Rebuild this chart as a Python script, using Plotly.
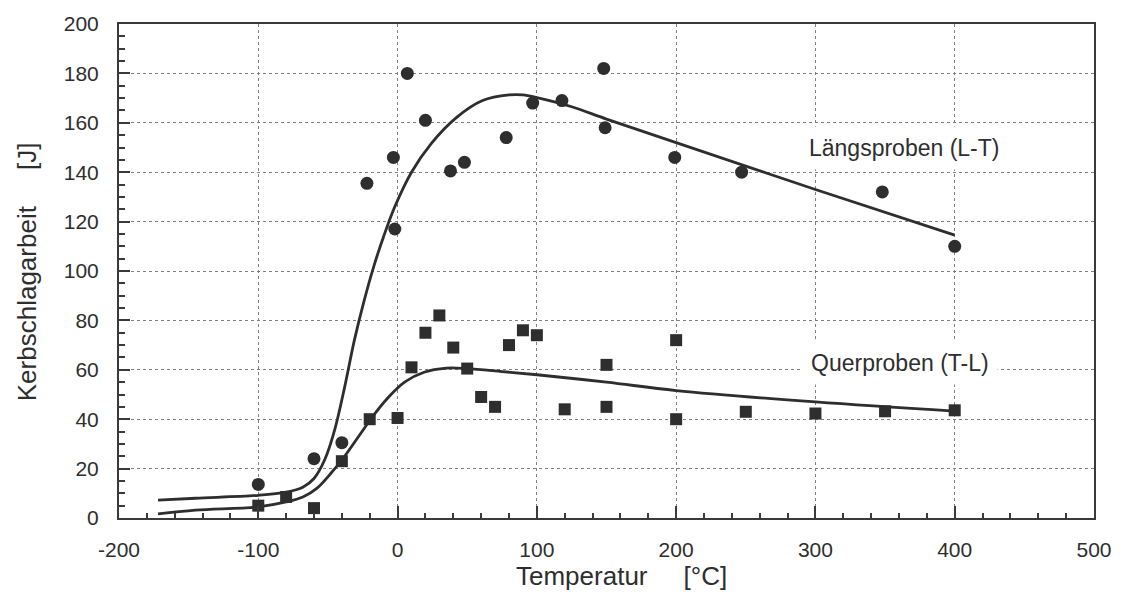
import plotly.graph_objects as go

# Längsproben (L-T) measured points
laengs_T = [-100, -60, -40, -22, -3, -2, 7, 20, 38, 48, 78, 97, 118, 148, 149, 199, 247, 348, 400]
laengs_V = [13.6, 24, 30.5, 135.5, 146, 117, 180, 161, 140.5, 144, 154, 168, 169, 182, 158, 146, 140, 132, 110]

# Querproben (T-L) measured points
quer_T = [-100, -80, -60, -40, -20, 0, 10, 20, 30, 40, 50, 60, 70, 80, 90, 100, 120, 150, 150, 200, 200, 250, 300, 350, 400]
quer_V = [5, 8.5, 4, 23, 40, 40.5, 61, 75, 82, 69, 60.5, 49, 45, 70, 76, 74, 44, 62, 45, 72, 40, 43, 42.3, 43.2, 43.6]

# fitted curves
fitL_T = [-172, -145, -100, -80, -68, -60, -52, -45, -38, -31, -24, -17, -10, -2, 10, 24, 42, 61, 80, 90, 100, 125, 150, 200, 300, 400]
fitL_V = [7.2, 8, 9.2, 10.5, 12.5, 16, 24, 36, 53, 72, 88, 102, 114, 126, 140, 151.5, 162, 169, 171.3, 171.3, 170.2, 166.5, 161.5, 152, 133, 114.5]

fitQ_T = [-172, -145, -100, -80, -68, -58, -48, -38, -28, -18, -8, 5, 19, 35, 50, 75, 100, 150, 200, 300, 400]
fitQ_V = [1.7, 3.2, 4.5, 6.5, 8.5, 12, 18, 25, 33, 41, 48, 55, 59, 60.7, 60.5, 59.3, 58, 55, 51.6, 47, 43.3]

x_ticks = [-200, -100, 0, 100, 200, 300, 400, 500]
x_tick_labels = ["-200", "-100", "0", "100", "200", "300", "400", "500"]
y_ticks = [0, 20, 40, 60, 80, 100, 120, 140, 160, 180, 200]

INK = "#2e2e2e"
FONT = "Liberation Sans, Arial, sans-serif"

fig = go.Figure()
fig.add_trace(go.Scatter(x=fitL_T, y=fitL_V, mode="lines", line=dict(color=INK, width=2.8, shape="spline", smoothing=1.0),
                         showlegend=False, hoverinfo="skip"))
fig.add_trace(go.Scatter(x=fitQ_T, y=fitQ_V, mode="lines", line=dict(color=INK, width=2.8, shape="spline", smoothing=1.0),
                         showlegend=False, hoverinfo="skip"))
fig.add_trace(go.Scatter(x=laengs_T, y=laengs_V, mode="markers",
                         marker=dict(symbol="circle", size=13, color=INK), showlegend=False))
fig.add_trace(go.Scatter(x=quer_T, y=quer_V, mode="markers",
                         marker=dict(symbol="square", size=12, color=INK), showlegend=False))

L, R, T, B = 119, 1094, 19, 518.5
W, H = R - L, B - T

def px(x):
    return (x - L) / W

def py(y):
    return (B - y) / H

axis_common = dict(
    showline=True, linecolor="#3a3a3a", linewidth=2, mirror=True,
    showgrid=True, gridcolor="#808080", gridwidth=1, griddash="dot",
    ticks="inside", tickcolor="#3a3a3a", tickwidth=1.5,
    tickfont=dict(family=FONT, size=21, color=INK),
    zeroline=False,
)

fig.update_xaxes(range=[-200, 500], tickvals=x_ticks, ticktext=x_tick_labels, ticklen=12,
                 minor=dict(dtick=20, ticks="inside", ticklen=5, tickcolor="#3a3a3a", showgrid=False),
                 ticklabelstandoff=12, **axis_common)
fig.update_yaxes(range=[0, 200], tickvals=y_ticks, ticklen=11,
                 minor=dict(dtick=5, ticks="inside", ticklen=6, tickcolor="#3a3a3a", showgrid=False),
                 ticklabelstandoff=14, **axis_common)

nb = "\u00a0"
fig.add_annotation(x=px(27), y=py(270), xref="paper", yref="paper", textangle=-90,
                   text="Kerbschlagarbeit" + nb * 5 + "[J]", showarrow=False,
                   font=dict(family=FONT, size=26, color=INK), xanchor="center", yanchor="middle")
fig.add_annotation(x=px(621), y=py(577), xref="paper", yref="paper",
                   text="Temperatur" + nb * 5 + "[°C]", showarrow=False,
                   font=dict(family=FONT, size=26, color=INK), xanchor="center", yanchor="middle")

fig.add_annotation(x=364, y=149.8, text="Längsproben (L-T)", showarrow=False,
                   font=dict(family=FONT, size=23, color=INK), bgcolor="white", borderpad=8)
fig.add_annotation(x=361, y=62.7, text="Querproben (T-L)", showarrow=False,
                   font=dict(family=FONT, size=23, color=INK), bgcolor="white", borderpad=8)

fig.update_layout(
    width=1147, height=593,
    margin=dict(l=L, r=1147 - R, t=T, b=593 - B),
    paper_bgcolor="white", plot_bgcolor="white",
    showlegend=False,
)

fig.write_html("out.html")
